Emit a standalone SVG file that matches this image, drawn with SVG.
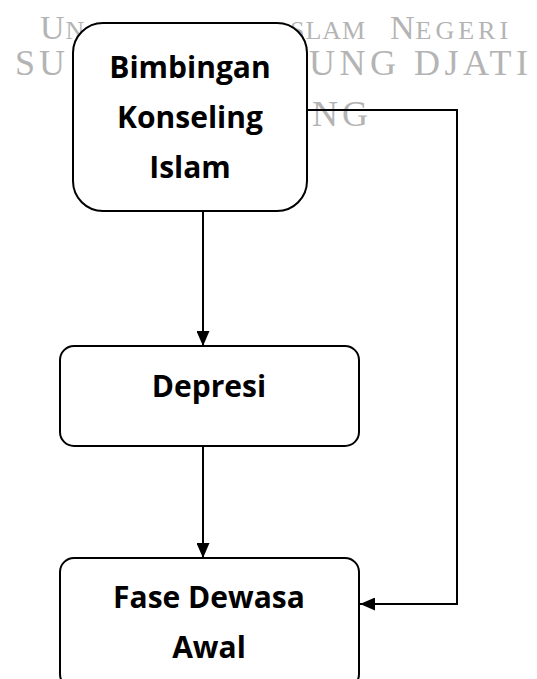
<svg xmlns="http://www.w3.org/2000/svg" width="537" height="679" viewBox="0 0 537 679">
<style>
.wm{font-family:"Liberation Serif","DejaVu Serif",serif;fill:#b4b4b4}
.big{font-size:34px}
.sm{font-size:26px}
.box{fill:#fff;stroke:#000;stroke-width:2}
.lbl{font-family:"Open Sans","Noto Sans",sans-serif;font-weight:bold;font-size:30px;fill:#000;text-anchor:middle}
.ln{fill:none;stroke:#000;stroke-width:2}
</style>
<defs>
<marker id="ah" viewBox="0 0 15 13" refX="15" refY="6.5" markerWidth="15" markerHeight="13" markerUnits="userSpaceOnUse" orient="auto">
<path d="M0,0 L15,6.5 L0,13 Z" fill="#000"/>
</marker>
</defs>
<rect width="537" height="679" fill="#fff"/>
<g id="watermark">
<text class="wm" x="40" y="39" letter-spacing="1"><tspan class="big">U</tspan><tspan class="sm">N</tspan></text>
<text class="wm" x="290" y="39" letter-spacing="1"><tspan class="sm">SLAM</tspan><tspan class="big" x="390">N</tspan><tspan class="sm" letter-spacing="4">EGERI</tspan></text>
<text class="wm" x="15" y="75" font-size="36" letter-spacing="4">SU</text>
<text class="wm" x="309" y="75" font-size="36" letter-spacing="4.5">UNG DJATI</text>
<text class="wm" x="312" y="126" font-size="36" letter-spacing="4">NG</text>
</g>
<g id="connectors">
<path class="ln" d="M203,211 V346" marker-end="url(#ah)"/>
<path class="ln" d="M203,446 V558" marker-end="url(#ah)"/>
<path class="ln" d="M307,110 H457 V604 H360" marker-end="url(#ah)"/>
</g>
<g id="node-bki">
<rect class="box" x="73" y="23" width="234" height="188" rx="30" ry="30"/>
<text class="lbl" x="190" y="78">Bimbingan</text>
<text class="lbl" x="190" y="128">Konseling</text>
<text class="lbl" x="190" y="178">Islam</text>
</g>
<g id="node-depresi">
<rect class="box" x="60" y="346" width="299" height="100" rx="14" ry="14"/>
<text class="lbl" x="209" y="397">Depresi</text>
</g>
<g id="node-fase">
<rect class="box" x="60" y="558" width="299" height="130" rx="14" ry="14"/>
<text class="lbl" x="209" y="608">Fase Dewasa</text>
<text class="lbl" x="209" y="658">Awal</text>
</g>
</svg>
